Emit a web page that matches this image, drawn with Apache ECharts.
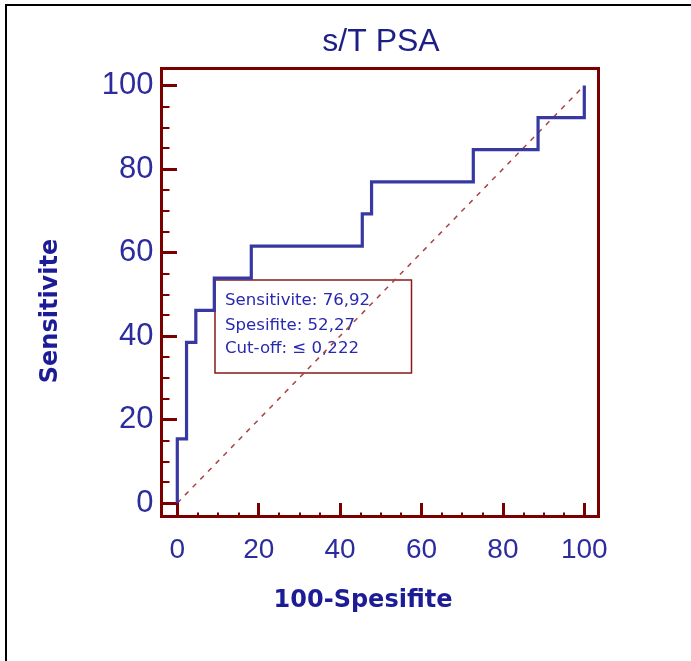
<!DOCTYPE html>
<html>
<head>
<meta charset="utf-8">
<script src="https://cdn.jsdelivr.net/npm/echarts@6/dist/echarts.min.js"></script>
<style>
  html, body { margin: 0; padding: 0; background: #ffffff; }
  #chart { width: 691px; height: 661px; }
</style>
</head>
<body>
<div id="chart"></div>
<script>
// ROC curve for s/T PSA: corner points of the empirical curve
const fpr  = [0, 0, 2.27, 2.27, 4.55, 4.55, 9.09, 9.09, 18.18, 18.18, 45.45, 45.45, 47.73, 47.73, 72.73, 72.73, 88.64, 88.64, 100, 100];
const sens = [0, 15.38, 15.38, 38.46, 38.46, 46.15, 46.15, 53.85, 53.85, 61.54, 61.54, 69.23, 69.23, 76.92, 76.92, 84.62, 84.62, 92.31, 92.31, 100];

// reference (chance) diagonal
const diagX = [0, 100];
const diagY = [0, 100];

// optimal cut-off summary
const cutSens = 76.92;
const cutSpec = 52.27;
const cutValue = '≤ 0,222';

// tick values
const majorTicks = [0, 20, 40, 60, 80, 100];
const minorTicks = [5, 10, 15, 25, 30, 35, 45, 50, 55, 65, 70, 75, 85, 90, 95];

const titleText = 's/T PSA';
const xName = '100-Spesifite';
const yName = 'Sensitivite';

const fmt = v => v.toFixed(2).replace('.', ',');

// plot frame in pixels and where 0..100 sits inside it
const frame = { left: 161.5, top: 68.5, width: 437, height: 448 };
const x0px = 177.3, x100px = 584.3;
const y0px = 503, y100px = 85.5;

// axis extents so the frame edges land slightly outside 0..100
const xUnit = (x100px - x0px) / 100;
const yUnit = (y0px - y100px) / 100;
const xMin = -(x0px - frame.left) / xUnit;
const xMax = 100 + (frame.left + frame.width - x100px) / xUnit;
const yMin = -(frame.top + frame.height - y0px) / yUnit;
const yMax = 100 + (y100px - frame.top) / yUnit;

const frameColor = '#7a0000';
const textBlue = '#2c2c9e';
const curveBlue = '#3838a2';

const chart = echarts.init(document.getElementById('chart'), null, { renderer: 'canvas' });

const tickFont = { fontFamily: 'Liberation Sans', color: textBlue };
const hiddenLine = { show: false, onZero: false };

chart.setOption({
  backgroundColor: '#ffffff',
  animation: false,
  title: {
    text: titleText,
    left: 376,
    top: 21,
    textAlign: 'center',
    textStyle: { fontFamily: 'Liberation Sans', fontSize: 32, fontWeight: 'normal', color: '#1e1e86' }
  },
  grid: [
    { left: frame.left, top: frame.top, width: frame.width, height: frame.height, show: true,
      borderColor: frameColor, borderWidth: 3, backgroundColor: 'transparent', containLabel: false }
  ],
  xAxis: [
    {
      type: 'value', min: xMin, max: xMax, position: 'bottom',
      axisLine: hiddenLine,
      axisTick: { show: true, inside: true, length: 13.5, customValues: majorTicks,
                  lineStyle: { color: frameColor, width: 3 } },
      splitLine: { show: false },
      axisLabel: Object.assign({ margin: 20, fontSize: 28, customValues: majorTicks }, tickFont)
    },
    {
      type: 'value', min: xMin, max: xMax, position: 'bottom',
      axisLine: hiddenLine,
      axisTick: { show: true, inside: true, length: 4, customValues: minorTicks,
                  lineStyle: { color: frameColor, width: 2 } },
      splitLine: { show: false },
      axisLabel: { show: false }
    }
  ],
  yAxis: [
    {
      type: 'value', min: yMin, max: yMax, position: 'left',
      axisLine: hiddenLine,
      axisTick: { show: true, inside: true, length: 15.5, customValues: majorTicks,
                  lineStyle: { color: frameColor, width: 3 } },
      splitLine: { show: false },
      axisLabel: Object.assign({ margin: 8, fontSize: 31, customValues: majorTicks }, tickFont)
    },
    {
      type: 'value', min: yMin, max: yMax, position: 'left',
      axisLine: hiddenLine,
      axisTick: { show: true, inside: true, length: 8, customValues: minorTicks,
                  lineStyle: { color: frameColor, width: 2 } },
      splitLine: { show: false },
      axisLabel: { show: false }
    }
  ],
  series: [
    {
      name: 'diagonal',
      type: 'line',
      xAxisIndex: 0, yAxisIndex: 0,
      data: diagX.map((x, i) => [x, diagY[i]]),
      symbol: 'none',
      silent: true,
      lineStyle: { color: '#a84444', width: 1.5, type: [5, 6] },
      z: 2
    },
    {
      name: 'ROC',
      type: 'line',
      xAxisIndex: 0, yAxisIndex: 0,
      data: fpr.map((x, i) => [x, sens[i]]),
      symbol: 'none',
      lineStyle: { color: curveBlue, width: 3.2, join: 'miter' },
      z: 3
    }
  ],
  graphic: [
    // outer page border (left and top)
    {
      type: 'polyline', silent: true,
      shape: { points: [[6, 661], [6, 5], [691, 5]] },
      style: { stroke: '#000000', lineWidth: 2, fill: null }
    },
    // axis names
    {
      type: 'text', x: 363, y: 601,
      style: { text: xName, fontFamily: 'DejaVu Sans', fontWeight: 'bold', fontSize: 24,
               fill: '#1c1c96', align: 'center', verticalAlign: 'middle' }
    },
    {
      type: 'text', x: 51, y: 311, rotation: Math.PI / 2,
      style: { text: yName, fontFamily: 'DejaVu Sans', fontWeight: 'bold', fontSize: 24,
               fill: '#1c1c96', align: 'center', verticalAlign: 'middle' }
    },
    // cut-off summary box
    {
      type: 'group', x: 215, y: 280, z: 100,
      children: [
        { type: 'rect', shape: { x: 0, y: 0, width: 196.5, height: 93 },
          style: { fill: '#ffffff', stroke: '#8a1a1a', lineWidth: 1.5 } },
        { type: 'text', x: 10, y: 21,
          style: { text: 'Sensitivite: ' + fmt(cutSens), fontFamily: 'DejaVu Sans', fontSize: 16.6,
                   fill: '#2828b0', verticalAlign: 'middle' } },
        { type: 'text', x: 10, y: 45.5,
          style: { text: 'Spesifite: ' + fmt(cutSpec), fontFamily: 'DejaVu Sans', fontSize: 16.6,
                   fill: '#2828b0', verticalAlign: 'middle' } },
        { type: 'text', x: 10, y: 69,
          style: { text: 'Cut-off: ' + cutValue, fontFamily: 'DejaVu Sans', fontSize: 16.6,
                   fill: '#2828b0', verticalAlign: 'middle' } }
      ]
    }
  ]
});
</script>
</body>
</html>
